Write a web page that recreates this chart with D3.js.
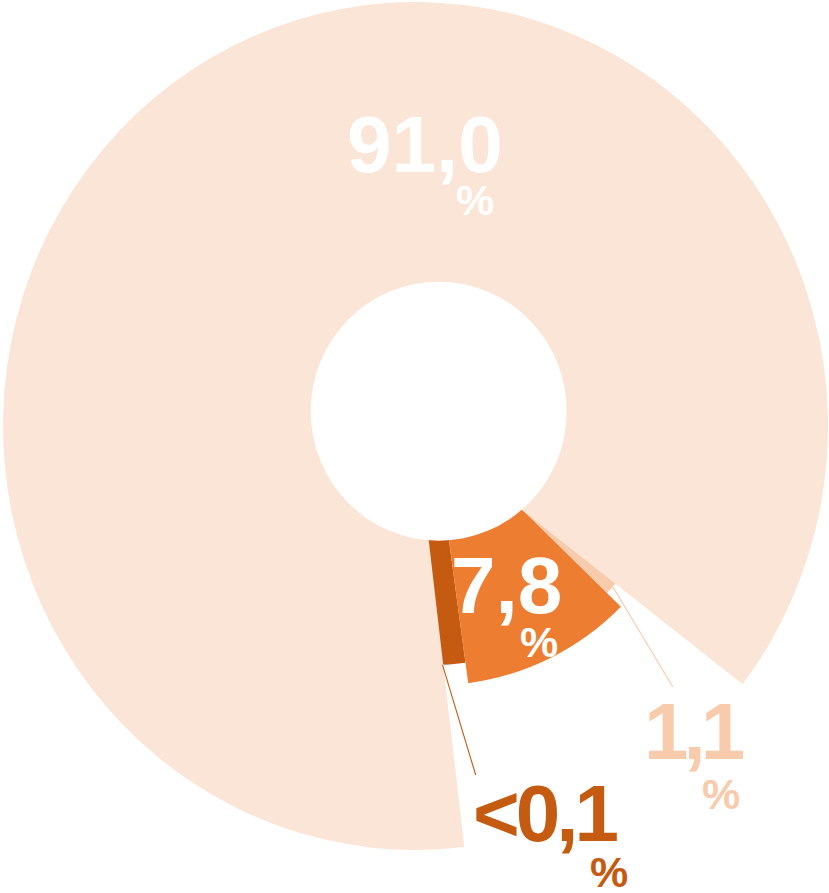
<!DOCTYPE html>
<html><head><meta charset="utf-8">
<script src="https://cdn.jsdelivr.net/npm/d3@7"></script>
<style>html,body{margin:0;padding:0;background:#fff;} svg{display:block;}</style>
</head><body><div id="chart"></div>
<script>
// ---- data (clockwise drawing order) ----
const categories = ["A", "B", "C", "D"];
const values = [91.0, 1.1, 7.8, 0.1];
const valueLabels = ["91,0", "1,1", "7,8", "<0,1"];
const unitLabel = "%";

// ---- styles ----
const colors = ["#FBE5D6", "#F8CBAD", "#ED7D31", "#C55A11"];
const labelColors = ["#FFFFFF", "#F8CBAD", "#FFFFFF", "#C55A11"];
const W = 829, H = 893;
const deg = Math.PI / 180;

// per-slice geometry (center, radius, vertical stretch, hidden underlap)
const geom = [
  { cx: 415.5, cy: 426, r: 412.5, sy: 1.0278, extStart: 0, extEnd: 0 },
  { cx: 433, cy: 422, r: 244, sy: 1, extStart: 9 * deg, extEnd: 0 },
  { cx: 433, cy: 422, r: 263.5, sy: 1, extStart: 0, extEnd: 0 },
  { cx: 433, cy: 422, r: 243, sy: 1, extStart: 0, extEnd: 10 * deg }
];
const drawOrder = [3, 1, 2, 0];
const hole = { cx: 438.7, cy: 411.2, rx: 128, ry: 129.5 };

const labelPos = [
  { x: 347, y: 172, px: 456, py: 215, ls: 0 },
  { x: 644, y: 759, px: 702, py: 809, ls: -5 },
  { x: 451, y: 613, px: 520, py: 657, ls: 0 },
  { x: 473, y: 841, px: 590, py: 887, ls: -4 }
];
const leaders = [
  { i: 1, t: 1.5, x2: 672.7, y2: 686.7 },
  { i: 3, t: 5, x2: 475.7, y2: 775 }
];

const svg = d3.select("#chart").append("svg").attr("width", W).attr("height", H);

const angleWeight = d3.scalePow().exponent(0.862).domain([0, 100]).range([0, 100]);
const start = 173.2 * deg;
const pie = d3.pie().sort(null).value(d => angleWeight(d.value))
  .startAngle(start).endAngle(start + 2 * Math.PI);
const data = categories.map((c, i) => ({ cat: c, value: values[i], i }));
const arcs = pie(data);

drawOrder.forEach(i => {
  const a = arcs[i], g = geom[i];
  const arcGen = d3.arc().innerRadius(0).outerRadius(g.r)
    .startAngle(a.startAngle - g.extStart).endAngle(a.endAngle + g.extEnd);
  svg.append("g")
    .attr("transform", `translate(${g.cx},${g.cy}) scale(1,${g.sy})`)
    .append("path").attr("d", arcGen()).attr("fill", colors[i]);
});

svg.append("ellipse").attr("cx", hole.cx).attr("cy", hole.cy)
  .attr("rx", hole.rx).attr("ry", hole.ry).attr("fill", "#fff");

// leader lines
leaders.forEach(L => {
  const a = arcs[L.i], g = geom[L.i];
  const ang = (a.startAngle + a.endAngle) / 2 + L.t * deg;
  const x1 = g.cx + g.r * Math.sin(ang), y1 = g.cy - g.r * Math.cos(ang) * g.sy;
  svg.append("line").attr("x1", x1).attr("y1", y1).attr("x2", L.x2).attr("y2", L.y2)
    .attr("stroke", colors[L.i]).attr("stroke-width", 1.1);
});

// labels
const font = "'Liberation Sans', Arial, sans-serif";
arcs.forEach((a, i) => {
  const p = labelPos[i];
  svg.append("text").attr("x", p.x).attr("y", p.y).text(valueLabels[i])
    .attr("font-family", font).attr("font-weight", 700).attr("font-size", 80)
    .attr("letter-spacing", p.ls).attr("fill", labelColors[i]);
  svg.append("text").attr("x", p.px).attr("y", p.py).text(unitLabel)
    .attr("font-family", font).attr("font-weight", 700).attr("font-size", 43)
    .attr("fill", labelColors[i]);
});
</script></body></html>
